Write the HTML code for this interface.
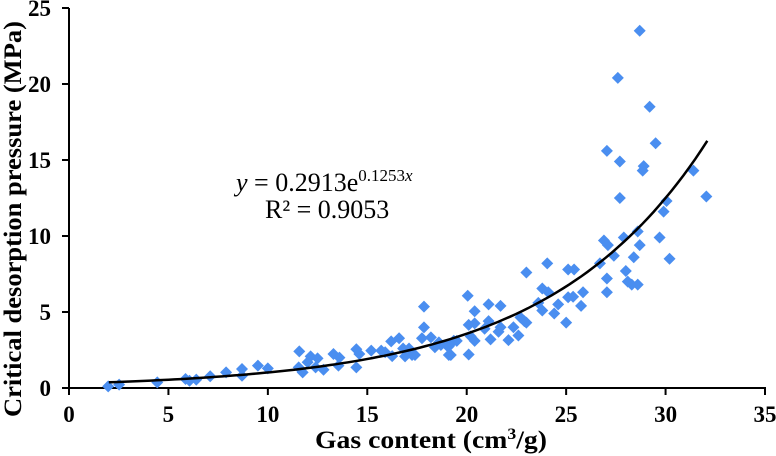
<!DOCTYPE html>
<html><head><meta charset="utf-8"><style>
html,body{margin:0;padding:0;background:#fff;}
svg{display:block;font-family:"Liberation Serif",serif;}
</style></head><body>
<svg id="chart" width="776" height="456" viewBox="0 0 776 456">
<g id="axes"></g><g id="marks"></g>
<text x="236" y="191" font-size="26"><tspan font-style="italic">y</tspan> = 0.2913e<tspan font-size="17" dy="-10">0.1253</tspan><tspan font-size="17" font-style="italic">x</tspan></text>
<text x="265" y="218" font-size="26">R² = 0.9053</text>
<text x="315" y="448" font-size="25" font-weight="bold" textLength="232" lengthAdjust="spacingAndGlyphs">Gas content (cm<tspan font-size="16" dy="-9">3</tspan><tspan dy="9">/g)</tspan></text>
<text transform="translate(21,417) rotate(-90)" font-size="25" font-weight="bold" textLength="396" lengthAdjust="spacingAndGlyphs">Critical desorption pressure (MPa)</text>
</svg>
<script>
const xTicks=[0,5,10,15,20,25,30,35];
const yTicks=[0,5,10,15,20,25];
const fitA=0.2913, fitB=0.1253, fitRange=[2,32.1];
const gasContent=[1.97,2.52,4.44,5.86,6.06,6.4,7.1,7.9,8.7,8.7,9.5,10.0,11.58,11.55,11.75,12.0,12.15,12.4,12.5,12.8,13.3,13.55,13.6,14.45,14.45,14.6,15.2,15.7,15.9,16.2,16.25,16.6,16.8,16.9,17.1,17.25,17.4,17.85,17.85,17.75,18.2,18.4,18.7,19.1,19.2,19.35,
28.7,27.6,29.2,29.5,27.05,27.7,28.9,28.85,31.4,27.7,32.05,30.05,29.9,29.7,30.2,26.9,27.1,27.9,28.6,28.7,27.4,28.4,26.7,24.05,23.0,25.1,25.4,27.05,28.0,28.1,28.3,28.6,27.05,23.8,24.1,25.85,25.1,25.35,23.6,24.6,25.75,20.05,23.8,24.4,25.0,21.1,21.7,20.4,22.7,22.9,23.0,20.1,20.4,21.1,20.9,21.7,21.6,22.35,20.2,20.4,21.2,22.1,22.6,19.5,18.6,19.0,19.1,20.1];
const pressure=[0.11,0.22,0.37,0.59,0.48,0.55,0.77,1.03,1.25,0.81,1.47,1.29,2.41,1.36,1.03,1.69,2.08,1.36,1.95,1.2,2.24,1.47,2.0,2.55,1.36,2.24,2.46,2.46,2.35,3.07,2.1,3.27,2.6,2.08,2.6,2.17,2.17,5.35,3.99,3.27,3.33,2.68,2.83,2.74,2.17,3.11,
23.5,20.4,18.5,16.1,15.6,14.9,14.6,14.3,14.3,12.5,12.6,12.3,11.6,9.9,8.5,9.7,9.4,9.9,10.3,9.4,8.7,8.6,8.2,8.2,7.6,7.8,7.8,7.2,7.7,7.0,6.8,6.8,6.3,6.55,6.3,6.3,5.97,6.0,5.6,5.5,5.4,6.07,5.1,4.9,4.3,5.5,5.4,5.05,4.65,4.4,4.3,4.15,4.25,4.4,3.9,4.0,3.7,4.0,3.4,3.1,3.2,3.15,3.45,3.1,3.0,2.8,2.17,2.2];
const NS="http://www.w3.org/2000/svg";
const X0=69,X1=765,Y0=388,Y1=8;
const sx=v=>X0+(v-0)/(35-0)*(X1-X0);
const sy=v=>Y0-(v-0)/(25-0)*(Y0-Y1);
function mk(t,a,p){const e=document.createElementNS(NS,t);for(const k in a)e.setAttribute(k,a[k]);p.appendChild(e);return e;}
const ax=document.getElementById('axes'),mg=document.getElementById('marks');
let l=mk('line',{x1:X0,y1:Y0,x2:X1+1,y2:Y0,stroke:'#000','stroke-width':2},ax);


l=mk('line',{x1:X0,y1:Y0+1,x2:X0,y2:Y1,stroke:'#000','stroke-width':2},ax);


xTicks.forEach(v=>{const x=sx(v);
 const t=mk('line',{x1:x,y1:Y0,x2:x,y2:Y0+7,stroke:'#000','stroke-width':2},ax);
 
 
 const tx=mk('text',{x:x,y:Y0+34,'font-size':23,'font-weight':'bold','text-anchor':'middle'},ax);tx.textContent=v;
 
 });
yTicks.forEach(v=>{const y=sy(v);
 const t=mk('line',{x1:X0-7,y1:y,x2:X0,y2:y,stroke:'#000','stroke-width':2},ax);
 
 
 const tx=mk('text',{x:X0-18,y:y+8,'font-size':23,'font-weight':'bold','text-anchor':'end'},ax);tx.textContent=v;
 
 });
gasContent.forEach((g,i)=>{const x=sx(g),y=sy(pressure[i]),r=6;
 const p=mk('polygon',{points:`${x},${y-r} ${x+r},${y} ${x},${y+r} ${x-r},${y}`,fill:'#4a8ef0'},mg);
 
 });
let d='';for(let i=0;i<=100;i++){const v=fitRange[0]+(fitRange[1]-fitRange[0])*i/100;d+=(i?'L':'M')+sx(v).toFixed(1)+','+sy(fitA*Math.exp(fitB*v)).toFixed(1);}
const c=mk('path',{d:d,fill:'none',stroke:'#000','stroke-width':2.5},mg);


</script>
</body></html>
